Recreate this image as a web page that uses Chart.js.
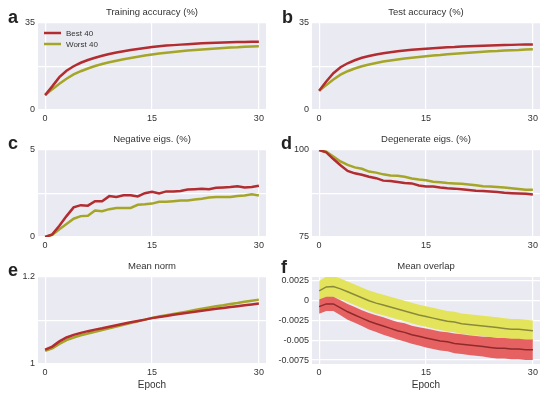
<!DOCTYPE html>
<html lang="en">
<head>
<meta charset="UTF-8">
<script src="https://cdn.jsdelivr.net/npm/chart.js@4.4.1/dist/chart.umd.min.js"></script>
<title>Best 40 vs Worst 40</title>
<style>
  body { margin: 0; background: #fff; }
  #wrap { position: relative; width: 548px; height: 398px; overflow: hidden; }
  #wrap canvas { position: absolute; }
  .lbl { position: absolute; font: bold 18px "Liberation Sans", Arial, sans-serif; color: #222; line-height: 18px; }
</style>
</head>
<body>
<div id="wrap">
  <canvas id="ca" width="274" height="130" style="left:0;top:0"></canvas>
  <canvas id="cb" width="274" height="130" style="left:274px;top:0"></canvas>
  <canvas id="cc" width="274" height="130" style="left:0;top:127px"></canvas>
  <canvas id="cd" width="274" height="130" style="left:274px;top:127px"></canvas>
  <canvas id="ce" width="274" height="144" style="left:0;top:254px"></canvas>
  <canvas id="cf" width="274" height="144" style="left:274px;top:254px"></canvas>
  <div class="lbl" style="left:8px;top:8px">a</div>
  <div class="lbl" style="left:282px;top:8px">b</div>
  <div class="lbl" style="left:8px;top:134px">c</div>
  <div class="lbl" style="left:281px;top:134px">d</div>
  <div class="lbl" style="left:8px;top:261px">e</div>
  <div class="lbl" style="left:281px;top:258px">f</div>
</div>
<script>
var epochs = [0,1,2,3,4,5,6,7,8,9,10,11,12,13,14,15,16,17,18,19,20,21,22,23,24,25,26,27,28,29,30];
var xTicks = [0, 15, 30];

var trainBest = [6.0, 9.5, 13.2, 15.8, 17.6, 19.0, 20.1, 21.0, 21.8, 22.5, 23.1, 23.6, 24.1, 24.5, 24.9, 25.3, 25.6, 25.9, 26.1, 26.3, 26.5, 26.7, 26.85, 27.0, 27.1, 27.2, 27.3, 27.35, 27.4, 27.45, 27.5];
var trainWorst = [6.0, 8.3, 10.6, 12.6, 14.3, 15.6, 16.7, 17.7, 18.5, 19.2, 19.8, 20.4, 20.9, 21.4, 21.9, 22.3, 22.7, 23.0, 23.3, 23.6, 23.9, 24.1, 24.3, 24.5, 24.7, 24.9, 25.1, 25.2, 25.4, 25.5, 25.6];

var testBest = [7.7, 11.5, 14.8, 17.2, 18.8, 20.0, 21.0, 21.7, 22.3, 22.8, 23.2, 23.6, 23.9, 24.2, 24.4, 24.6, 24.8, 25.0, 25.2, 25.3, 25.5, 25.6, 25.7, 25.8, 25.9, 26.0, 26.1, 26.2, 26.3, 26.35, 26.4];
var testWorst = [7.7, 10.0, 12.3, 14.2, 15.6, 16.7, 17.6, 18.3, 18.9, 19.5, 19.9, 20.3, 20.7, 21.0, 21.3, 21.6, 21.9, 22.1, 22.4, 22.6, 22.8, 23.0, 23.2, 23.4, 23.6, 23.7, 23.9, 24.0, 24.1, 24.3, 24.4];

var negBest = [0, 0.15, 0.65, 1.2, 1.7, 1.83, 1.8, 2.06, 2.06, 2.35, 2.3, 2.4, 2.4, 2.33, 2.52, 2.6, 2.5, 2.62, 2.62, 2.64, 2.73, 2.75, 2.77, 2.75, 2.83, 2.85, 2.87, 2.92, 2.85, 2.87, 2.94];
var negWorst = [0, 0.12, 0.45, 0.75, 1.05, 1.2, 1.22, 1.52, 1.48, 1.6, 1.67, 1.67, 1.67, 1.85, 1.88, 1.92, 2.02, 2.02, 2.06, 2.1, 2.1, 2.15, 2.2, 2.27, 2.3, 2.3, 2.3, 2.36, 2.38, 2.46, 2.38];

var degBest = [100, 99.3, 97.4, 95.6, 94.0, 93.3, 92.9, 92.3, 91.9, 91.2, 91.1, 90.8, 90.5, 90.4, 89.8, 89.5, 89.5, 89.2, 89.0, 88.9, 88.7, 88.5, 88.3, 88.2, 88.1, 87.9, 87.7, 87.6, 87.5, 87.4, 87.2];
var degWorst = [100, 99.5, 98.1, 96.7, 95.7, 95.0, 94.6, 93.8, 93.5, 93.0, 92.7, 92.6, 92.3, 91.8, 91.5, 91.3, 90.9, 90.7, 90.5, 90.4, 90.3, 90.1, 89.9, 89.6, 89.5, 89.4, 89.2, 89.0, 88.8, 88.6, 88.6];

var normBest = [1.033, 1.040, 1.052, 1.061, 1.067, 1.0715, 1.0755, 1.079, 1.082, 1.0855, 1.089, 1.0925, 1.096, 1.099, 1.102, 1.1055, 1.108, 1.1105, 1.113, 1.1155, 1.118, 1.120, 1.1225, 1.1245, 1.127, 1.129, 1.131, 1.133, 1.135, 1.137, 1.139];
var normWorst = [1.030, 1.036, 1.046, 1.055, 1.061, 1.066, 1.070, 1.074, 1.078, 1.082, 1.086, 1.090, 1.094, 1.098, 1.102, 1.106, 1.109, 1.112, 1.115, 1.118, 1.121, 1.124, 1.127, 1.130, 1.133, 1.135, 1.138, 1.140, 1.143, 1.1455, 1.148];

var overlapBest = [-0.00075, -0.0004, -0.0004, -0.0009, -0.0014, -0.0018, -0.0022, -0.0026, -0.0029, -0.0032, -0.0035, -0.0038, -0.0040, -0.0043, -0.0045, -0.0047, -0.0049, -0.0051, -0.0052, -0.0054, -0.0055, -0.0056, -0.0057, -0.0058, -0.0059, -0.0060, -0.0060, -0.0061, -0.0061, -0.0062, -0.0062];
var overlapBestErr = [0.0009, 0.0009, 0.0009, 0.00095, 0.001, 0.001, 0.001, 0.00105, 0.00105, 0.0011, 0.0011, 0.0011, 0.00115, 0.00115, 0.00115, 0.0012, 0.0012, 0.0012, 0.0012, 0.00125, 0.00125, 0.00125, 0.00125, 0.00125, 0.0013, 0.0013, 0.0013, 0.0013, 0.0013, 0.0013, 0.0013];
var overlapWorst = [0.00125, 0.00175, 0.0018, 0.0015, 0.00113, 0.00075, 0.00038, 0.0, -0.0003, -0.00055, -0.0008, -0.00105, -0.0013, -0.00155, -0.0018, -0.002, -0.0022, -0.0024, -0.0026, -0.0027, -0.0029, -0.003, -0.0031, -0.0032, -0.0033, -0.0034, -0.0035, -0.0036, -0.0036, -0.0037, -0.0038];
var overlapWorstErr = [0.00125, 0.0013, 0.0013, 0.0013, 0.0013, 0.0013, 0.0013, 0.0013, 0.0013, 0.0013, 0.0013, 0.0013, 0.0013, 0.0013, 0.0013, 0.0013, 0.0013, 0.0013, 0.0013, 0.0013, 0.0013, 0.0013, 0.0013, 0.0013, 0.0013, 0.0013, 0.0013, 0.0013, 0.0013, 0.0013, 0.0013];

var RED = '#b22c30';
var OLIVE = '#a5a528';
var FONT = '"Liberation Sans", Arial, sans-serif';

function pts(arr) {
  return epochs.map(function (e, i) { return { x: e, y: arr[i] }; });
}

var bgPlugin = {
  id: 'bg',
  beforeDraw: function (chart) {
    var a = chart.chartArea, ctx = chart.ctx;
    ctx.save();
    ctx.fillStyle = '#eaeaf2';
    ctx.fillRect(a.left, a.top, a.right - a.left, a.bottom - a.top);
    ctx.restore();
  }
};

// title centred over the plot area, like matplotlib does
var titlePlugin = {
  id: 'ptitle',
  afterDraw: function (chart, args, opts) {
    var a = chart.chartArea, ctx = chart.ctx;
    ctx.save();
    ctx.fillStyle = '#333';
    ctx.font = '9.5px ' + FONT;
    ctx.textAlign = 'center';
    ctx.textBaseline = 'middle';
    ctx.fillText(opts.text, (a.left + a.right) / 2, a.top - 11);
    ctx.restore();
  }
};

var legendPlugin = {
  id: 'inlegend',
  afterDatasetsDraw: function (chart, args, opts) {
    if (!opts.show) return;
    var a = chart.chartArea, ctx = chart.ctx;
    ctx.save();
    chart.data.datasets.forEach(function (ds, i) {
      var y = a.top + 10 + i * 11;
      ctx.strokeStyle = ds.borderColor;
      ctx.lineWidth = 2.5;
      ctx.beginPath();
      ctx.moveTo(a.left + 6, y);
      ctx.lineTo(a.left + 23, y);
      ctx.stroke();
      ctx.fillStyle = '#333';
      ctx.font = '8px ' + FONT;
      ctx.textBaseline = 'middle';
      ctx.fillText(ds.label, a.left + 28, y + 0.5);
    });
    ctx.restore();
  }
};

function lineDs(label, arr, color) {
  return {
    label: label, data: pts(arr), borderColor: color, backgroundColor: color,
    borderWidth: 2.5, pointRadius: 0, tension: 0, fill: false
  };
}

function makeChart(id, title, datasets, yTicks, yLabel, withEpoch, legend) {
  return new Chart(document.getElementById(id), {
    type: 'line',
    data: { datasets: datasets },
    options: {
      responsive: false,
      animation: false,
      layout: { padding: { top: 23, right: 8, left: 0, bottom: 0 } },
      plugins: {
        legend: { display: false },
        tooltip: { enabled: false },
        title: { display: false },
        ptitle: { text: title },
        inlegend: { show: !!legend }
      },
      scales: {
        x: {
          type: 'linear', min: -1, max: 31,
          afterBuildTicks: function (s) { s.ticks = xTicks.map(function (v) { return { value: v }; }); },
          afterFit: function (s) { s.height = withEpoch ? 34 : 20; },
          grid: { color: '#fff', lineWidth: 1.2, drawTicks: false },
          border: { display: false },
          ticks: { color: '#333', padding: 3, font: { family: FONT, size: 9 }, maxRotation: 0 },
          title: {
            display: !!withEpoch, text: 'Epoch', color: '#333',
            font: { family: FONT, size: 10 }, padding: { top: 0, bottom: 7 }
          }
        },
        y: {
          min: yTicks.min, max: yTicks.max,
          afterBuildTicks: function (s) { s.ticks = yTicks.ticks.map(function (v) { return { value: v }; }); },
          afterFit: function (s) { s.width = 38; },
          grid: { color: '#fff', lineWidth: 1.2, drawTicks: false },
          border: { display: false },
          ticks: {
            color: '#333', padding: 3, font: { family: FONT, size: 9 },
            callback: function (v) { return yLabel(v); }
          }
        }
      }
    },
    plugins: [bgPlugin, titlePlugin, legendPlugin]
  });
}

function endsOnly(lo, hi) {
  return function (v) { return (v === lo || v === hi) ? String(v) : ''; };
}

makeChart('ca', 'Training accuracy (%)',
  [lineDs('Best 40', trainBest, RED), lineDs('Worst 40', trainWorst, OLIVE)],
  { min: 0, max: 35, ticks: [0, 17.5, 35] }, endsOnly(0, 35), false, true);

makeChart('cb', 'Test accuracy (%)',
  [lineDs('Best 40', testBest, RED), lineDs('Worst 40', testWorst, OLIVE)],
  { min: 0, max: 35, ticks: [0, 17.5, 35] }, endsOnly(0, 35), false, false);

makeChart('cc', 'Negative eigs. (%)',
  [lineDs('Best 40', negBest, RED), lineDs('Worst 40', negWorst, OLIVE)],
  { min: 0, max: 5, ticks: [0, 2.5, 5] }, endsOnly(0, 5), false, false);

makeChart('cd', 'Degenerate eigs. (%)',
  [lineDs('Best 40', degBest, RED), lineDs('Worst 40', degWorst, OLIVE)],
  { min: 75, max: 100, ticks: [75, 87.5, 100] }, endsOnly(75, 100), false, false);

makeChart('ce', 'Mean norm',
  [lineDs('Best 40', normBest, RED), lineDs('Worst 40', normWorst, OLIVE)],
  { min: 1, max: 1.2, ticks: [1, 1.1, 1.2] }, endsOnly(1, 1.2), true, false);

// mean overlap with shaded bands (lower order = drawn on top)
function band(mean, err, sign) {
  return mean.map(function (m, i) { return m + sign * err[i]; });
}
var overlapTickLabels = { '0.0025': '0.0025', '0': '0', '-0.0025': '-0.0025', '-0.005': '-0.005', '-0.0075': '-0.0075' };
makeChart('cf', 'Mean overlap', [
  { label: 'wu', data: pts(band(overlapWorst, overlapWorstErr, 1)), borderWidth: 0, pointRadius: 0, fill: '+1', backgroundColor: '#e3e35c', order: 3 },
  { label: 'wl', data: pts(band(overlapWorst, overlapWorstErr, -1)), borderWidth: 0, pointRadius: 0, fill: false, order: 3 },
  { label: 'bu', data: pts(band(overlapBest, overlapBestErr, 1)), borderWidth: 0, pointRadius: 0, fill: '+1', backgroundColor: '#e66262', order: 2 },
  { label: 'bl', data: pts(band(overlapBest, overlapBestErr, -1)), borderWidth: 0, pointRadius: 0, fill: false, order: 2 },
  { label: 'Worst 40', data: pts(overlapWorst), borderColor: '#8a8a3c', borderWidth: 1.5, pointRadius: 0, fill: false, order: 1 },
  { label: 'Best 40', data: pts(overlapBest), borderColor: '#8e2a2a', borderWidth: 1.5, pointRadius: 0, fill: false, order: 0 }
], { min: -0.008, max: 0.003, ticks: [-0.0075, -0.005, -0.0025, 0, 0.0025] },
  function (v) { return overlapTickLabels[String(v)] || ''; }, true, false);
</script>
</body>
</html>
